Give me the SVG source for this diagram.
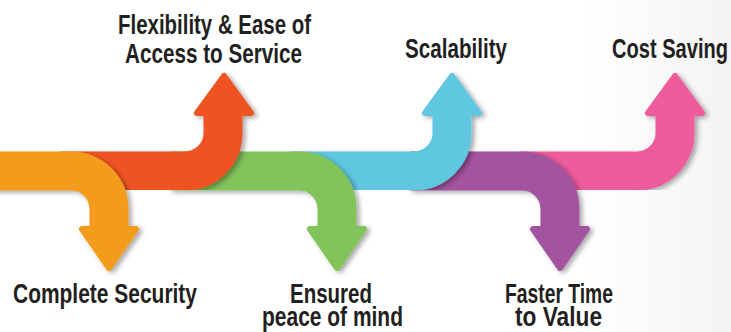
<svg xmlns="http://www.w3.org/2000/svg" width="731" height="332" viewBox="0 0 731 332">
<defs>
<linearGradient id="bg" x1="0" y1="0" x2="1" y2="0">
<stop offset="0" stop-color="#ffffff"/>
<stop offset="0.8" stop-color="#ffffff"/>
<stop offset="1" stop-color="#f4f4f4"/>
</linearGradient>
<filter id="sh" x="-20%" y="-20%" width="140%" height="140%">
<feDropShadow dx="3" dy="2" stdDeviation="2.5" flood-color="#000" flood-opacity="0.35"/>
</filter>
<style>
.band{fill:none;stroke-width:39}
.head{stroke-width:6;stroke-linejoin:round}
.lbl{font-family:"Liberation Sans",Arial,sans-serif;font-weight:bold;font-size:27px;fill:#231f20}
</style>
</defs>
<rect width="731" height="332" fill="url(#bg)"/>

<g id="arrow-cost-saving" filter="url(#sh)">
<path class="band" stroke="#EF5C9E" d="M520 171 H637 A38 38 0 0 0 675 133 V110"/>
<polygon class="head" fill="#EF5C9E" stroke="#EF5C9E" points="648,113 702,113 675,76"/>
</g>
<g id="arrow-faster-time" filter="url(#sh)">
<path class="band" stroke="#A4529F" d="M410 171 H522 A38 38 0 0 1 560 209 V232"/>
<polygon class="head" fill="#A4529F" stroke="#A4529F" points="533,229 587,229 560,268"/>
</g>
<g id="arrow-scalability" filter="url(#sh)">
<path class="band" stroke="#5FC8E0" d="M290 171 H414 A38 38 0 0 0 452 133 V110"/>
<polygon class="head" fill="#5FC8E0" stroke="#5FC8E0" points="425,113 479,113 452,76"/>
</g>
<g id="arrow-peace" filter="url(#sh)">
<path class="band" stroke="#82C35A" d="M170 171 H299 A38 38 0 0 1 337 209 V232"/>
<polygon class="head" fill="#82C35A" stroke="#82C35A" points="310,229 364,229 337,268"/>
</g>
<g id="arrow-flexibility" filter="url(#sh)">
<path class="band" stroke="#F05323" d="M60 171 H185 A38 38 0 0 0 223 133 V110"/>
<polygon class="head" fill="#F05323" stroke="#F05323" points="197,113 251,113 224,76"/>
</g>
<g id="arrow-security" filter="url(#sh)">
<path class="band" stroke="#F39C1F" d="M-10 171 H71 A38 38 0 0 1 109 209 V232"/>
<polygon class="head" fill="#F39C1F" stroke="#F39C1F" points="82,229 136,229 109,268"/>
</g>

<g id="labels">
<text class="lbl" x="118" y="34" textLength="193" lengthAdjust="spacingAndGlyphs">Flexibility &amp; Ease of</text>
<text class="lbl" x="125" y="63" textLength="177" lengthAdjust="spacingAndGlyphs">Access to Service</text>
<text class="lbl" x="405" y="58" textLength="102" lengthAdjust="spacingAndGlyphs">Scalability</text>
<text class="lbl" x="612" y="58" textLength="116" lengthAdjust="spacingAndGlyphs">Cost Saving</text>
<text class="lbl" x="13" y="303" textLength="184" lengthAdjust="spacingAndGlyphs">Complete Security</text>
<text class="lbl" x="290" y="303" textLength="82" lengthAdjust="spacingAndGlyphs">Ensured</text>
<text class="lbl" x="262" y="326" textLength="141" lengthAdjust="spacingAndGlyphs">peace of mind</text>
<text class="lbl" x="505" y="303" textLength="108" lengthAdjust="spacingAndGlyphs">Faster Time</text>
<text class="lbl" x="515" y="326" textLength="87" lengthAdjust="spacingAndGlyphs">to Value</text>
</g>
</svg>
